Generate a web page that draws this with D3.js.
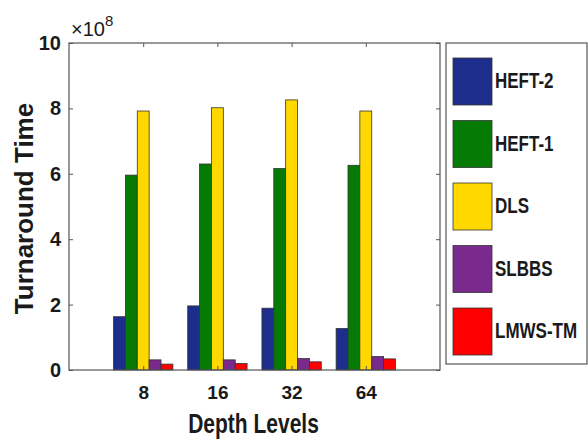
<!DOCTYPE html>
<html>
<head>
<meta charset="utf-8">
<script src="https://cdn.jsdelivr.net/npm/d3@7"></script>
<style>
  body { margin: 0; background: #fff; }
  text { font-family: "Liberation Sans", Arial, sans-serif; font-weight: bold; fill: #1a1a1a; }
</style>
</head>
<body>
<div id="chart"></div>
<script>
// categories and series (values in units of 1e8)
const depthLevels = ['8', '16', '32', '64'];
const seriesNames = ['HEFT-2', 'HEFT-1', 'DLS', 'SLBBS', 'LMWS-TM'];
const seriesColors = ['#1c2d8c', '#057a05', '#ffd800', '#7a2a8c', '#ff0000'];
const heft2 = [1.63, 1.96, 1.89, 1.27];
const heft1 = [5.96, 6.30, 6.16, 6.26];
const dls = [7.92, 8.02, 8.26, 7.92];
const slbbs = [0.31, 0.31, 0.35, 0.41];
const lmwsTm = [0.18, 0.20, 0.25, 0.34];
const yTicks = [0, 2, 4, 6, 8, 10];

const seriesValues = [heft2, heft1, dls, slbbs, lmwsTm];

const svgWidth = 588, svgHeight = 440;
const plot = { left: 69, right: 440, top: 43, bottom: 370 };
const axisColor = '#555';

const svg = d3.select('#chart').append('svg')
  .attr('width', svgWidth)
  .attr('height', svgHeight);

// scales: x positions are 1..4 in [0,5], like the source chart
const xScale = d3.scaleLinear().domain([0, 5]).range([plot.left, plot.right]);
const yScale = d3.scaleLinear().domain([0, 10]).range([plot.bottom, plot.top]);

const groupWidth = 0.8;
const barWidth = groupWidth / seriesNames.length;

// bars
seriesValues.forEach((vals, j) => {
  svg.append('g').selectAll('rect')
    .data(vals)
    .enter()
    .append('rect')
    .attr('x', (d, i) => xScale(i + 1 - groupWidth / 2 + j * barWidth))
    .attr('y', d => yScale(d))
    .attr('width', xScale(barWidth) - xScale(0))
    .attr('height', d => yScale(0) - yScale(d))
    .attr('fill', seriesColors[j])
    .attr('stroke', '#333')
    .attr('stroke-width', 0.8);
});

// box
svg.append('rect')
  .attr('x', plot.left).attr('y', plot.top)
  .attr('width', plot.right - plot.left)
  .attr('height', plot.bottom - plot.top)
  .attr('fill', 'none')
  .attr('stroke', axisColor)
  .attr('stroke-width', 1.2);

// y axis ticks (left labels, mirrored ticks on right)
const yAxisL = d3.axisLeft(yScale).tickValues(yTicks).tickSize(-4).tickPadding(8).tickFormat(d3.format('d'));
const gy = svg.append('g').attr('transform', `translate(${plot.left},0)`).call(yAxisL);
gy.select('.domain').remove();
gy.selectAll('line').attr('stroke', axisColor);
gy.selectAll('text')
  .attr('font-size', '20px')
  .attr('fill', '#1a1a1a')
  .attr('font-family', '"Liberation Sans", Arial, sans-serif')
  .attr('font-weight', 'bold');

const yAxisR = d3.axisRight(yScale).tickValues(yTicks).tickSize(-4).tickFormat('');
const gyr = svg.append('g').attr('transform', `translate(${plot.right},0)`).call(yAxisR);
gyr.select('.domain').remove();
gyr.selectAll('line').attr('stroke', axisColor);

// x axis ticks (bottom labels, mirrored ticks on top)
const xTickVals = depthLevels.map((d, i) => i + 1);
const xAxisB = d3.axisBottom(xScale).tickValues(xTickVals).tickSize(-4).tickPadding(16)
  .tickFormat((d, i) => depthLevels[i]);
const gx = svg.append('g').attr('transform', `translate(0,${plot.bottom})`).call(xAxisB);
gx.select('.domain').remove();
gx.selectAll('line').attr('stroke', axisColor);
gx.selectAll('text')
  .attr('font-size', '19px')
  .attr('fill', '#1a1a1a')
  .attr('font-family', '"Liberation Sans", Arial, sans-serif')
  .attr('font-weight', 'bold');

const xAxisT = d3.axisTop(xScale).tickValues(xTickVals).tickSize(-4).tickFormat('');
const gxt = svg.append('g').attr('transform', `translate(0,${plot.top})`).call(xAxisT);
gxt.select('.domain').remove();
gxt.selectAll('line').attr('stroke', axisColor);

// exponent label
const expo = svg.append('text')
  .attr('x', 71).attr('y', 36)
  .attr('font-size', '20px')
  .style('font-weight', 'normal');
expo.append('tspan').text('\u00d710');
expo.append('tspan').attr('dy', -10).attr('font-size', '15px').text('8');

// axis titles
svg.append('text')
  .attr('text-anchor', 'middle')
  .attr('font-size', '21px')
  .attr('transform', `translate(${(plot.left + plot.right) / 2 - 1},433) scale(1,1.3)`)
  .text('Depth Levels');

svg.append('text')
  .attr('text-anchor', 'middle')
  .attr('font-size', '26px')
  .attr('transform', `translate(33,${(plot.top + plot.bottom) / 2 + 2}) rotate(-90)`)
  .text('Turnaround Time');

// legend
const legend = svg.append('g');
legend.append('rect')
  .attr('x', 446).attr('y', 43)
  .attr('width', 141).attr('height', 321)
  .attr('fill', '#fff')
  .attr('stroke', axisColor)
  .attr('stroke-width', 1.2);

const legendPitch = 62.5;
const items = legend.selectAll('g.item')
  .data(seriesNames)
  .enter()
  .append('g')
  .attr('class', 'item')
  .attr('transform', (d, i) => `translate(453,${58 + i * legendPitch})`);

items.append('rect')
  .attr('width', 39).attr('height', 47)
  .attr('fill', (d, i) => seriesColors[i])
  .attr('stroke', '#333')
  .attr('stroke-width', 0.8);

items.append('text')
  .attr('font-size', '17px')
  .attr('transform', 'translate(42,30) scale(1,1.35)')
  .text(d => d);
</script>
</body>
</html>
